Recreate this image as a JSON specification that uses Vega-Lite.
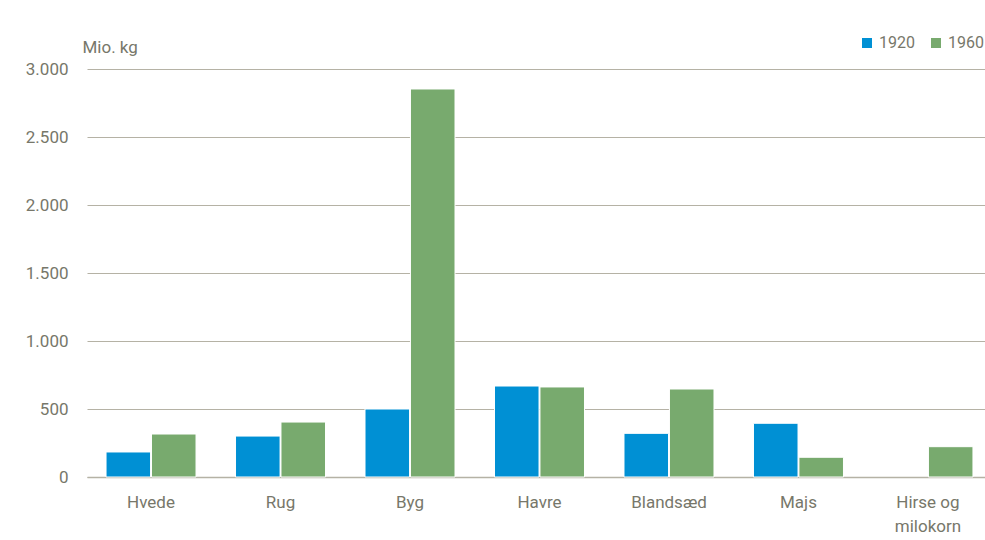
{
  "$schema": "https://vega.github.io/schema/vega-lite/v6.json",
  "autosize": "none",
  "width": 905,
  "height": 408,
  "padding": {"left": 87, "top": 69, "right": 0, "bottom": 63},
  "background": "white",
  "config": {
    "font": "Roboto",
    "view": {"stroke": null},
    "axis": {"labelFont": "Roboto", "titleFont": "Roboto", "labelColor": "#77776a", "titleColor": "#77776a", "labelFontSize": 17, "titleFontSize": 17, "titleFontWeight": "normal"},
    "legend": {"labelFont": "Roboto", "labelColor": "#77776a", "labelFontSize": 17}
  },
  "data": {
    "values": [
      {"kornart": "Hvede", "aar": "1920", "mio_kg": 184},
      {"kornart": "Hvede", "aar": "1960", "mio_kg": 316},
      {"kornart": "Rug", "aar": "1920", "mio_kg": 301},
      {"kornart": "Rug", "aar": "1960", "mio_kg": 404},
      {"kornart": "Byg", "aar": "1920", "mio_kg": 500},
      {"kornart": "Byg", "aar": "1960", "mio_kg": 2853},
      {"kornart": "Havre", "aar": "1920", "mio_kg": 669},
      {"kornart": "Havre", "aar": "1960", "mio_kg": 662},
      {"kornart": "Blandsæd", "aar": "1920", "mio_kg": 321},
      {"kornart": "Blandsæd", "aar": "1960", "mio_kg": 647},
      {"kornart": "Majs", "aar": "1920", "mio_kg": 395},
      {"kornart": "Majs", "aar": "1960", "mio_kg": 145},
      {"kornart": "Hirse og milokorn", "aar": "1960", "mio_kg": 223}
    ]
  },
  "mark": {"type": "bar", "stroke": "white", "strokeWidth": 1},
  "encoding": {
    "x": {
      "field": "kornart", "type": "nominal", "sort": null,
      "scale": {"paddingInner": 0.305, "paddingOuter": 0.147},
      "axis": {
        "title": null, "labelAngle": 0, "ticks": false, "domainColor": "#b5b2a5", "domainWidth": 1.5,
        "labelPadding": 17, "labelBaseline": "top", "labelLineHeight": 24,
        "labelExpr": "datum.label == 'Hirse og milokorn' ? ['Hirse og', 'milokorn'] : datum.label"
      }
    },
    "xOffset": {"field": "aar", "type": "nominal", "scale": {"paddingInner": 0.02}},
    "y": {
      "field": "mio_kg", "type": "quantitative",
      "scale": {"domain": [0, 3000], "nice": false},
      "axis": {
        "title": "Mio. kg", "titleAngle": 0, "titleX": -5, "titleY": -22, "titleAlign": "left", "titleBaseline": "middle",
        "values": [0, 500, 1000, 1500, 2000, 2500, 3000],
        "domain": false, "ticks": false, "gridColor": "#b5b2a5", "gridWidth": 1.2, "labelPadding": 19,
        "labelExpr": "replace(format(datum.value, ','), ',', '.')"
      }
    },
    "color": {
      "field": "aar", "type": "nominal",
      "scale": {"domain": ["1920", "1960"], "range": ["#0090d4", "#78aa6e"]},
      "legend": {"title": null, "orient": "none", "legendX": 772, "legendY": -34, "direction": "horizontal", "symbolType": "square", "symbolSize": 100, "symbolStrokeWidth": 0, "columnPadding": 13, "labelOffset": 4, "labelFontSize": 16}
    }
  }
}
